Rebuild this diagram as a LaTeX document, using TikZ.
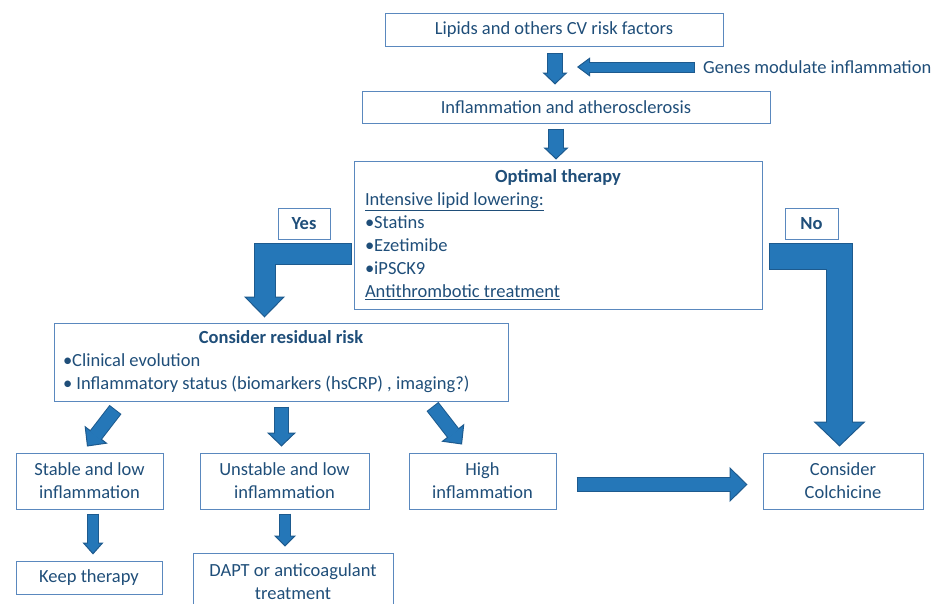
\documentclass[tikz,border=0pt]{standalone}
\usepackage{fontspec}
\setmainfont{Carlito}
\usetikzlibrary{arrows.meta,calc}
\definecolor{textblue}{HTML}{1F4E79}
\definecolor{boxline}{HTML}{5A88BE}
\definecolor{arrowfill}{HTML}{2577B8}
\definecolor{arrowedge}{HTML}{1D5A8E}

\begin{document}
\begin{tikzpicture}[x=1pt, y=-1pt,
    every node/.style={font=\fontsize{18.5}{23}\selectfont, text=textblue},
    box/.style={rectangle, draw=boxline, line width=1pt, inner sep=0pt, align=center},
    listbox/.style={box, align=flush left, inner xsep=#1},
    bigarrow/.style n args={3}{draw=arrowfill, line width=#1, line join=miter,
        shorten <=1pt, shorten >=#3-1.5pt,
        preaction={draw=arrowedge, line width=#1+2pt, shorten <=0pt, shorten >=0pt,
            -{Triangle[width=#2, length=#3, fill=arrowfill, color=arrowedge, line width=1pt]}}}
    ]
    \useasboundingbox (0,0) rectangle (943,603);
    % top of the chart
    \node[box, minimum width=338pt, minimum height=33pt] (lipids) at (554,29.5) {Lipids and others CV risk factors};
    \node[box, minimum width=408pt, minimum height=32pt] (inflam) at (566,107) {Inflammation and atherosclerosis};
    \node[anchor=west, inner sep=0pt] (genes) at (703,67) {Genes modulate inflammation};
    \coordinate (genestip) at (577,67);
    \node[listbox=11pt, text width=386pt, minimum height=148pt] (optimal) at (558,235) {%
        \makebox[\hsize]{\textbf{Optimal therapy}}\\
        \underline{Intensive lipid lowering:}\\
        •Statins\\
        •Ezetimibe\\
        •iPSCK9\\
        \underline{Antithrombotic treatment}};
    \node[box, minimum width=52pt, minimum height=31pt] (yes) at (304,223.5) {\textbf{Yes}};
    \node[box, minimum width=53pt, minimum height=31pt] (no) at (811.5,223.5) {\textbf{No}};
    % residual risk and outcomes
    \node[listbox=9pt, text width=436pt, minimum height=78pt] (residual) at (281,362) {%
        \makebox[\hsize]{\textbf{Consider residual risk}}\\
        •Clinical evolution\\
        • Inflammatory status (biomarkers (hsCRP) , imaging?)};
    \node[box, minimum width=147pt, minimum height=56pt] (stable) at (89.5,481) {Stable and low\\inflammation};
    \node[box, minimum width=169pt, minimum height=56pt] (unstable) at (284.5,481) {Unstable and low\\inflammation};
    \node[box, minimum width=147pt, minimum height=56pt] (high) at (482.5,481) {High\\inflammation};
    \node[box, minimum width=160pt, minimum height=56pt] (colch) at (843,481) {Consider\\Colchicine};
    \node[box, minimum width=146pt, minimum height=33pt] (keep) at (89,577.5) {Keep therapy};
    \node[box, minimum width=200pt, minimum height=57pt] (dapt) at (293,581.5) {DAPT or anticoagulant\\treatment};
    % block arrows
    \draw[bigarrow={14pt}{25pt}{12pt}] ($(lipids.south)+(1,6)$) -- ($(lipids.south |- inflam.north)+(1,-6)$);
    \draw[bigarrow={9pt}{19pt}{13pt}] ($(genes.west)+(-8,0)$) -- (genestip);
    \draw[bigarrow={14pt}{25pt}{12pt}] ($(inflam.south -| optimal.north)+(-2,5)$) -- ($(optimal.north)+(-2,-1)$);
    \draw[bigarrow={20pt}{41pt}{21pt}] ($(optimal.west)+(-2,19)$) -| ($(residual.north)+(-16.5,-5)$);
    \draw[bigarrow={25pt}{52pt}{25pt}] ($(optimal.east)+(6,21.5)$) -| ($(colch.north)+(-3.5,-6)$);
    \draw[bigarrow={13pt}{29pt}{15pt}] ($(residual.south west)+(62,8)$) -- ($(stable.north)+(-2.5,-6)$);
    \draw[bigarrow={13pt}{29pt}{14pt}] ($(residual.south)+(0.5,5)$) -- ($(unstable.north)+(-3,-6)$);
    \draw[bigarrow={13pt}{29pt}{15pt}] ($(residual.south east)+(-76,5)$) -- ($(high.north)+(-20.5,-8)$);
    \draw[bigarrow={13pt}{35pt}{18pt}] ($(high.east)+(20,3.5)$) -- ($(colch.west)+(-15,3.5)$);
    \draw[bigarrow={10pt}{21pt}{12pt}] ($(stable.south)+(3.5,4)$) -- ($(keep.north)+(4,-6)$);
    \draw[bigarrow={10pt}{22pt}{11pt}] ($(unstable.south)+(0.5,4)$) -- ($(unstable.south |- dapt.north)+(0.5,-6)$);
\end{tikzpicture}
\end{document}
